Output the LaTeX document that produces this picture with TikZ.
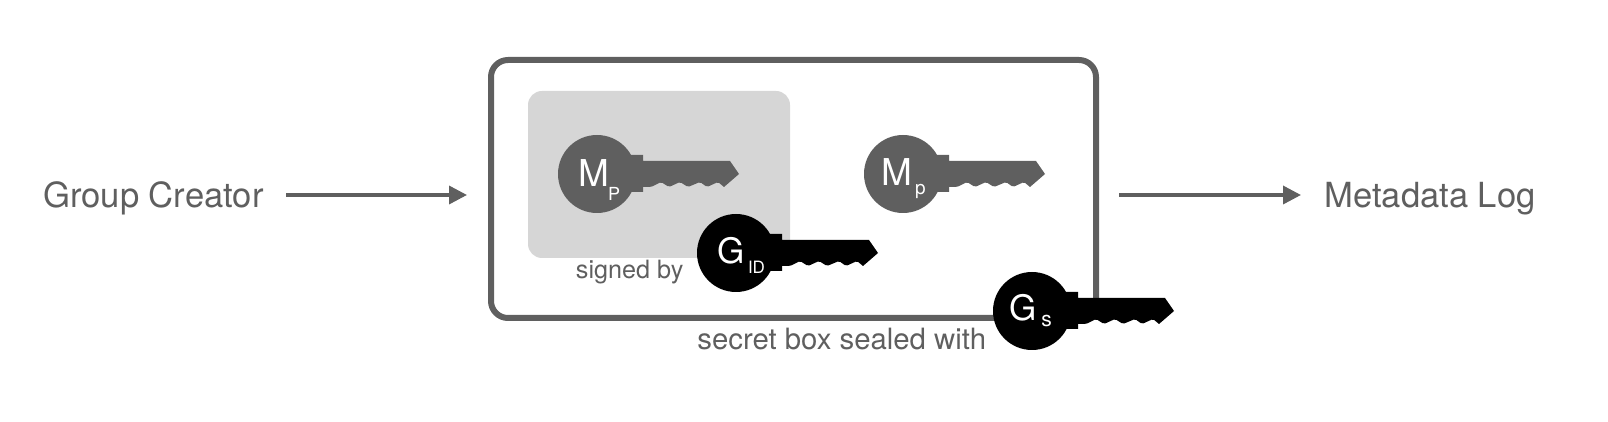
\documentclass[tikz,border=0pt]{standalone}
\usepackage{fontspec}
\setmainfont{TeX Gyre Heros}
\usetikzlibrary{arrows.meta}
\definecolor{keygray}{HTML}{5F5F5F}
\definecolor{panelgray}{HTML}{D6D6D6}
\tikzset{endpoint/.style={
        font=\fontsize{17.3}{20}\selectfont,
        text=keygray,
        anchor=west,
        inner sep=0pt,
        text height=12.5pt,
        text depth=0pt},
        caption/.style={
            text=keygray,
            anchor=base west,
            inner sep=0pt,
            font=\fontsize{#1}{16}\selectfont},
        keyhead/.style={
            circle,
            fill=#1,
            minimum size=39pt,
            inner sep=0pt},
        keyletter/.style={
            text=white,
            anchor=base,
            inner sep=0pt,
            font=\fontsize{#1}{16}\selectfont}
        }
\tikzstyle{flow}     = [line width=1.75pt,keygray,-{Triangle[length=9pt,width=9pt]}]
\newcommand{\keyblade}[2]{
    \fill[#2,shift={(#1.center)}] (25,-19) -- (46,-19) -- (46,-13) -- (133,-13) -- (142,0) -- (127,13)
        [rounded corners=0.8pt] -- (121,8) -- (110,13) -- (103,8) -- (91,13) -- (83,8) -- (72,13) -- (64,8) -- (54,13)
        [sharp corners] -- (46,13) -- (46,18) -- (25,18) -- cycle;
}

\begin{document}
\begin{tikzpicture}[x=0.5pt,y=-0.5pt]
		\useasboundingbox (0,0) rectangle (1608,422);

		\node[draw=keygray,line width=3pt,rounded corners=8.5pt,minimum width=302.5pt,minimum height=129pt] (box) at (793.5,189) {};
		\node[fill=panelgray,rounded corners=7pt,minimum width=131pt,minimum height=83.5pt] (panel) at (659,174.5) {};

		\node[endpoint] (creator) at (43,195) {Group Creator};
		\node[endpoint] (log) at (1324,195) {Metadata Log};
		\draw[flow,shorten <=11pt,shorten >=10.5pt] (creator.east) -- (creator.east -| box.west);
		\draw[flow,shorten <=10pt,shorten >=11.5pt] (box.east |- log.west) -- (log.west);

		\node[caption=12.6] (signed) at (575.5,279) {signed by};
		\node[caption=14.67] (sealed) at (697,350) {secret box sealed with};

		\node[keyhead=keygray] (mpublic) at (597,174) {};
		\keyblade{mpublic}{keygray}
		\node[keyletter=18.5] (mpublicM) at (593.5,187) {M};
		\node[keyletter=9] (mpublicP) at (614,201) {P};

		\node[keyhead=keygray] (mprivate) at (903,174) {};
		\keyblade{mprivate}{keygray}
		\node[keyletter=18.5] (mprivateM) at (896.5,186) {M};
		\node[keyletter=9.5] (mprivateP) at (920.5,195) {p};

		\node[keyhead=black] (gid) at (736,253) {};
		\keyblade{gid}{black}
		\node[keyletter=17.5] (gidG) at (731,264) {G};
		\node[keyletter=8.5] (gidI) at (756.5,274) {ID};

		\node[keyhead=black] (gsecret) at (1032,311) {};
		\keyblade{gsecret}{black}
		\node[keyletter=17.5] (gsecretG) at (1023.5,321) {G};
		\node[keyletter=10.5] (gsecretS) at (1046.5,327) {s};
	\end{tikzpicture}
\end{document}
